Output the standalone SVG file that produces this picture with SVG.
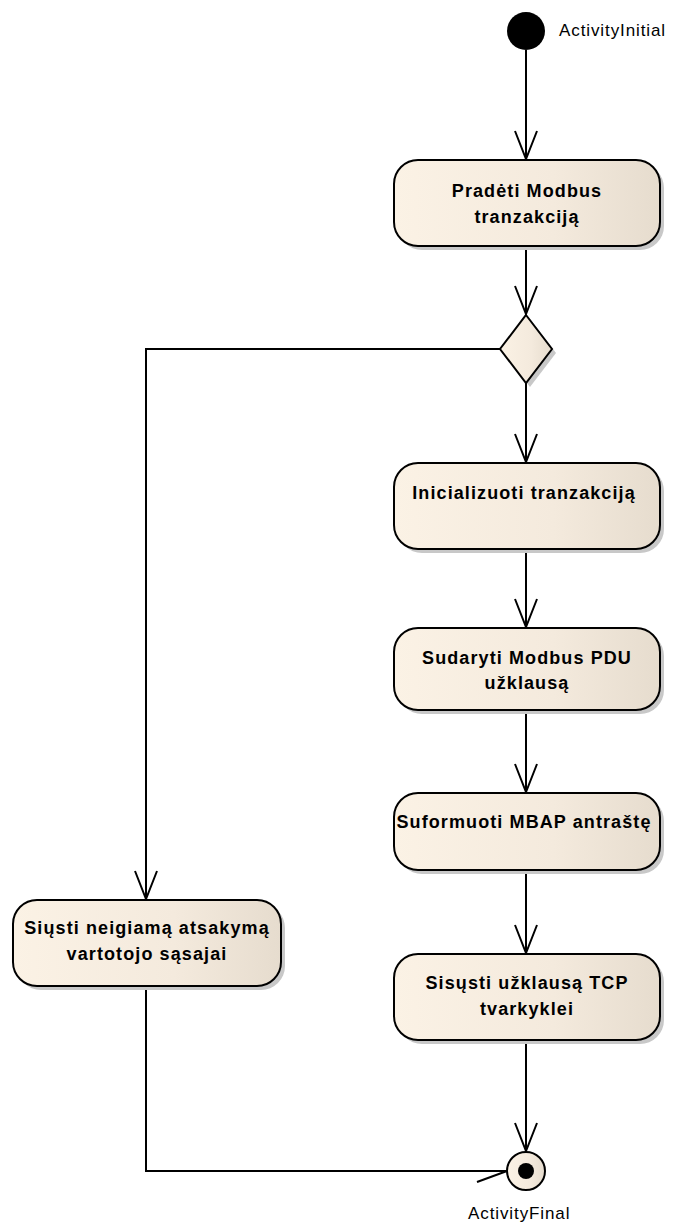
<svg xmlns="http://www.w3.org/2000/svg" width="681" height="1224" viewBox="0 0 681 1224">
<defs>
<linearGradient id="g" x1="0" y1="0" x2="1" y2="0">
<stop offset="0" stop-color="#FBF2E5"/>
<stop offset="0.6" stop-color="#F4EADD"/>
<stop offset="1" stop-color="#E6DCCE"/>
</linearGradient>
<marker id="arr" markerUnits="userSpaceOnUse" markerWidth="32" markerHeight="26" refX="29" refY="12" orient="auto" viewBox="0 0 32 24">
<path d="M1,1 L29,12 L1,23" fill="none" stroke="#000" stroke-width="2"/>
</marker>
</defs>
<style>
.shadow{fill:#C8C8C8}
.box{fill:url(#g);stroke:#000;stroke-width:2}
.t{font-family:"Liberation Sans",Arial,sans-serif;font-weight:bold;font-size:18px;letter-spacing:1.1px;text-anchor:middle;fill:#000}
.lbl{font-family:"Liberation Sans",Arial,sans-serif;font-size:17px;letter-spacing:0.9px;fill:#000}
.c{fill:none;stroke:#000;stroke-width:2}
</style>
<g id="connectors">
<line class="c" x1="526" y1="50" x2="526" y2="159" marker-end="url(#arr)"/>
<line class="c" x1="526" y1="246" x2="526" y2="314" marker-end="url(#arr)"/>
<line class="c" x1="526" y1="383" x2="526" y2="462" marker-end="url(#arr)"/>
<line class="c" x1="526" y1="549" x2="526" y2="627" marker-end="url(#arr)"/>
<line class="c" x1="526" y1="710" x2="526" y2="792" marker-end="url(#arr)"/>
<line class="c" x1="526" y1="870" x2="526" y2="953" marker-end="url(#arr)"/>
<line class="c" x1="526" y1="1040" x2="526" y2="1151" marker-end="url(#arr)"/>
<polyline class="c" points="501,349 146,349 146,899" marker-end="url(#arr)"/>
<polyline class="c" points="146,986 146,1171 507,1171"/>
<line class="c" x1="507" y1="1171" x2="477" y2="1182"/>
</g>
<g id="initial">
<circle cx="526" cy="31" r="19" fill="#000"/>
<text class="lbl" x="559" y="36">ActivityInitial</text>
</g>
<g id="n1">
<rect class="shadow" x="398" y="164" width="266" height="86" rx="24"/>
<rect class="box" x="394" y="160" width="266" height="86" rx="24"/>
<text class="t" x="527" y="197">Pradėti Modbus</text>
<text class="t" x="527" y="223">tranzakciją</text>
</g>
<g id="decision">
<polygon class="shadow" points="530,319 556,353 530,387 504,353"/>
<polygon class="box" points="526,315 552,349 526,383 500,349"/>
</g>
<g id="n2">
<rect class="shadow" x="398" y="467" width="266" height="86" rx="24"/>
<rect class="box" x="394" y="463" width="266" height="86" rx="24"/>
<text class="t" x="524" y="499">Inicializuoti tranzakciją</text>
</g>
<g id="n3">
<rect class="shadow" x="398" y="632" width="266" height="82" rx="24"/>
<rect class="box" x="394" y="628" width="266" height="82" rx="24"/>
<text class="t" x="527" y="664">Sudaryti Modbus PDU</text>
<text class="t" x="527" y="689">užklausą</text>
</g>
<g id="n4">
<rect class="shadow" x="398" y="797" width="266" height="77" rx="24"/>
<rect class="box" x="394" y="793" width="266" height="77" rx="24"/>
<text class="t" x="524" y="828">Suformuoti MBAP antraštę</text>
</g>
<g id="n5">
<rect class="shadow" x="398" y="958" width="266" height="86" rx="24"/>
<rect class="box" x="394" y="954" width="266" height="86" rx="24"/>
<text class="t" x="527" y="989">Sisųsti užklausą TCP</text>
<text class="t" x="527" y="1015">tvarkyklei</text>
</g>
<g id="nL">
<rect class="shadow" x="17" y="904" width="268" height="86" rx="24"/>
<rect class="box" x="13" y="900" width="268" height="86" rx="24"/>
<text class="t" x="147" y="934">Siųsti neigiamą atsakymą</text>
<text class="t" x="147" y="960">vartotojo sąsajai</text>
</g>
<g id="final">
<circle cx="526" cy="1171" r="19" fill="url(#g)" stroke="#000" stroke-width="2"/>
<circle cx="526" cy="1171" r="8" fill="#000"/>
<text class="lbl" x="468" y="1219">ActivityFinal</text>
</g>
</svg>
